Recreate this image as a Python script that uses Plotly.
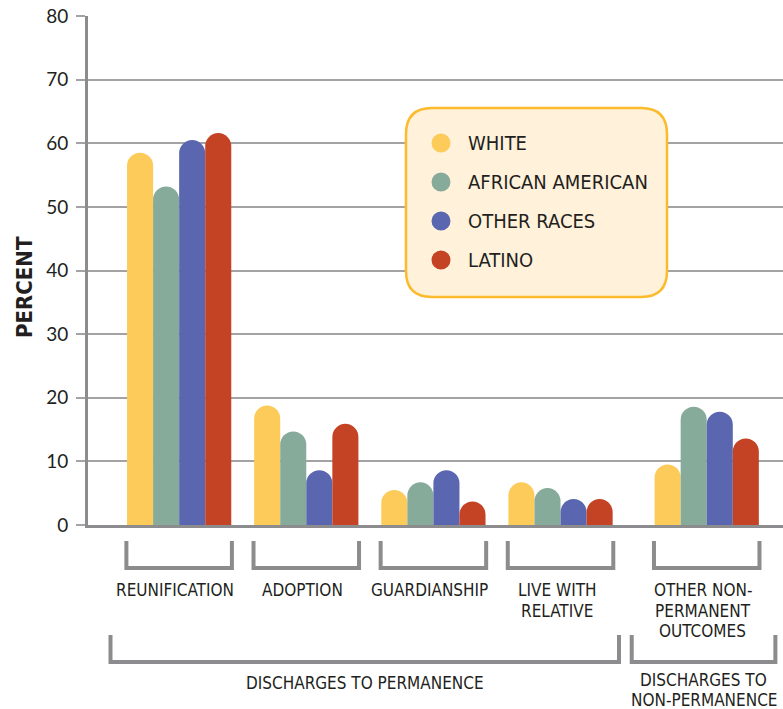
import plotly.graph_objects as go

categories = ["REUNIFICATION", "ADOPTION", "GUARDIANSHIP", "LIVE WITH<br>RELATIVE",
              "OTHER NON-<br>PERMANENT<br>OUTCOMES"]
series_names = ["WHITE", "AFRICAN AMERICAN", "OTHER RACES", "LATINO"]
white = [58.5, 18.8, 5.5, 6.7, 9.5]
african_american = [53.2, 14.7, 6.7, 5.8, 18.6]
other_races = [60.5, 8.6, 8.6, 4.1, 17.8]
latino = [61.6, 15.9, 3.7, 4.1, 13.6]
series_values = [white, african_american, other_races, latino]
colors = ["#fdcb5a", "#86ab9a", "#5a67b0", "#c44325"]
y_ticks = [0, 10, 20, 30, 40, 50, 60, 70, 80]
groups = [("DISCHARGES TO PERMANENCE", 0, 3), ("DISCHARGES TO<br>NON-PERMANENCE", 4, 4)]

W, H = 783, 709
L, R, T, B = 88, 0, 16, 184
pw, ph = W - L - R, H - T - B

def px(x):
    return (x - L) / pw

def py(y):
    return (H - B - y) / ph

# category positions: extra gap before the non-permanence group
xpos = [i + (0.15 if i == 4 else 0) for i in range(len(categories))]
xmin, xmax = -0.717, 4.75

fig = go.Figure()
for name, vals, col in zip(series_names, series_values, colors):
    fig.add_trace(go.Bar(x=xpos, y=vals, name=name, marker=dict(color=col, line=dict(width=0)),
                         showlegend=False))

shapes = []
annotations = []
GRAY = "#8c8c8e"
FONT_C = "Liberation Sans Narrow, DejaVu Sans Condensed, Roboto"
TXT = "#231f20"
LINE_H = 20.5

def add_lines(text, xc, y_first):
    for j, line in enumerate(text.split("<br>")):
        annotations.append(dict(x=xc, y=py(y_first + j * LINE_H), xref="x", yref="paper", text=line,
                                showarrow=False, xanchor="center", yanchor="middle",
                                font=dict(family=FONT_C, size=17, color=TXT)))

# category brackets + labels
for i, (cat, xc) in enumerate(zip(categories, xpos)):
    x0, x1 = xc - 0.415, xc + 0.415
    shapes.append(dict(type="path", xref="x", yref="paper",
                       path=f"M {x0},{py(541)} L {x0},{py(568)} L {x1},{py(568)} L {x1},{py(541)}",
                       line=dict(color=GRAY, width=4)))
    add_lines(cat, xc - 0.03, 590)

# group brackets
for label, a, b in groups:
    if a == 0:
        x0, x1 = xpos[a] - 0.54, xpos[b] + 0.46
        yfirst = 683
    else:
        x0, x1 = xpos[a] - 0.59, xpos[b] + 0.54
        yfirst = 679.5
    shapes.append(dict(type="path", xref="x", yref="paper",
                       path=f"M {x0},{py(635)} L {x0},{py(662)} L {x1},{py(662)} L {x1},{py(635)}",
                       line=dict(color=GRAY, width=4)))
    add_lines(label, (x0 + x1) / 2, yfirst)

# legend box with rounded corners
bx0, bx1, by0, by1, r = 406, 667, 108, 297, 26
def P(x, y):
    return f"{px(x)},{py(y)}"
path = (f"M {P(bx0 + r, by0)} L {P(bx1 - r, by0)} Q {P(bx1, by0)} {P(bx1, by0 + r)} "
        f"L {P(bx1, by1 - r)} Q {P(bx1, by1)} {P(bx1 - r, by1)} "
        f"L {P(bx0 + r, by1)} Q {P(bx0, by1)} {P(bx0, by1 - r)} "
        f"L {P(bx0, by0 + r)} Q {P(bx0, by0)} {P(bx0 + r, by0)} Z")
shapes.append(dict(type="path", xref="paper", yref="paper", path=path, layer="above",
                   fillcolor="#fff1da", line=dict(color="#fbbb2c", width=2.5)))
for k, (name, col) in enumerate(zip(series_names, colors)):
    cy = 143 + k * 39
    rr = 9.5
    shapes.append(dict(type="circle", xref="paper", yref="paper", layer="above",
                       x0=px(441 - rr), x1=px(441 + rr), y0=py(cy + rr), y1=py(cy - rr),
                       fillcolor=col, line=dict(width=0)))
    annotations.append(dict(x=px(466), y=py(cy), xref="paper", yref="paper", text=name,
                            showarrow=False, xanchor="left", yanchor="middle",
                            font=dict(family=FONT_C, size=20, color=TXT)))

# y-axis title
annotations.append(dict(x=px(25), y=py(287), xref="paper", yref="paper", text="<b>PERCENT</b>",
                        textangle=-90, showarrow=False, xanchor="center", yanchor="middle",
                        font=dict(family=FONT_C, size=22, color=TXT)))

fig.update_layout(
    width=W, height=H, margin=dict(l=L, r=R, t=T, b=B),
    paper_bgcolor="white", plot_bgcolor="white",
    barmode="group", bargap=0.18, bargroupgap=0, barcornerradius="50%",
    shapes=shapes, annotations=annotations, showlegend=False,
    xaxis=dict(range=[xmin, xmax], showticklabels=False, showgrid=False, zeroline=False,
               showline=True, linecolor=GRAY, linewidth=3, ticks=""),
    yaxis=dict(range=[0, 80], tickvals=y_ticks, showgrid=True, gridcolor="#a3a3a5", gridwidth=1.5,
               zeroline=False, showline=True, linecolor=GRAY, linewidth=3,
               ticks="outside", ticklen=9, tickcolor="#a3a3a5", tickwidth=1.5,
               ticklabelstandoff=4,
               tickfont=dict(family="Lato, Open Sans, sans-serif", size=19, color=TXT)),
)
fig.write_html("out.html")
